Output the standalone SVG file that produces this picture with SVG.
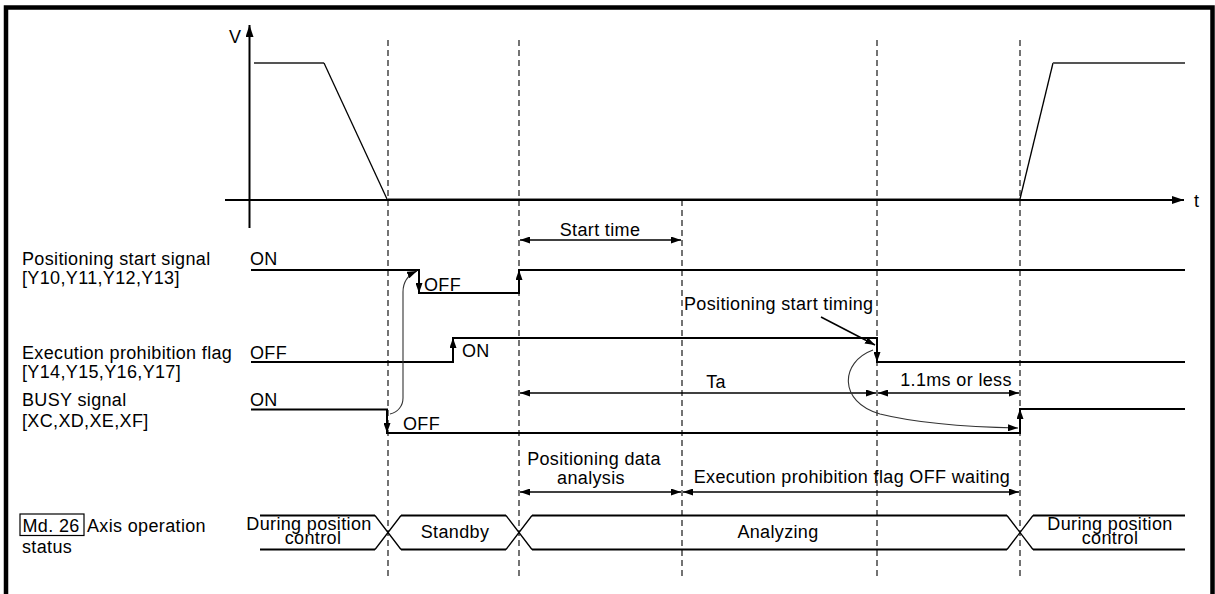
<svg xmlns="http://www.w3.org/2000/svg" width="1215" height="594" viewBox="0 0 1215 594">
<style>
text{font-family:"Liberation Sans",Arial,sans-serif;font-size:18px;letter-spacing:0.35px;fill:#000}
.mid{text-anchor:middle}
.sig{fill:none;stroke:#000;stroke-width:2}
.guide{fill:none;stroke:#000;stroke-width:1.1;stroke-dasharray:6,4}
.dim{fill:none;stroke:#000;stroke-width:1.3;marker-start:url(#ah);marker-end:url(#ah)}
.edge{fill:none;stroke:none;marker-end:url(#ah)}
.thin{fill:none;stroke:#333;stroke-width:1.1;marker-end:url(#ah)}
.bus{fill:none;stroke:#000;stroke-width:2}
.busx{fill:none;stroke:#000;stroke-width:1.3}
</style>
<defs>
<marker id="ah" markerUnits="userSpaceOnUse" markerWidth="10" markerHeight="7" refX="10" refY="3.5" orient="auto-start-reverse"><path d="M0,0 L10,3.5 L0,7 Z" fill="#000"/></marker>
<marker id="axh" markerUnits="userSpaceOnUse" markerWidth="12" markerHeight="8" refX="12" refY="4" orient="auto"><path d="M0,0 L12,4 L0,8 Z" fill="#000"/></marker>
</defs>
<rect width="1215" height="594" fill="#fff"/>
<path id="frame" d="M6,594 V7.5 H1212.5 V594" fill="none" stroke="#000" stroke-width="4.5"/>

<g id="guides">
<line class="guide" x1="388" y1="40" x2="388" y2="577"/>
<line class="guide" x1="519" y1="40" x2="519" y2="577"/>
<line class="guide" x1="682" y1="200" x2="682" y2="577"/>
<line class="guide" x1="877" y1="40" x2="877" y2="577"/>
<line class="guide" x1="1020" y1="40" x2="1020" y2="577"/>
</g>

<g id="velocity-graph">
<line x1="249.5" y1="228" x2="249.5" y2="25" stroke="#000" stroke-width="2" marker-end="url(#axh)"/>
<line x1="225" y1="200" x2="1184" y2="200" stroke="#000" stroke-width="2.2" marker-end="url(#axh)"/>
<text x="229" y="43">V</text>
<text x="1194" y="207">t</text>
<path d="M254,63 H324" fill="none" stroke="#555" stroke-width="2"/>
<path d="M324,63 L387,199" fill="none" stroke="#000" stroke-width="1.3"/>
<path d="M387,198.5 H1020" fill="none" stroke="#888" stroke-width="1"/>
<path d="M1020,199 L1053,63" fill="none" stroke="#000" stroke-width="1.3"/>
<path d="M1053,63 H1185" fill="none" stroke="#555" stroke-width="2"/>
</g>

<g id="positioning-start-signal">
<text x="22" y="265">Positioning start signal</text>
<text x="22" y="284">[Y10,Y11,Y12,Y13]</text>
<text x="250" y="265">ON</text>
<polyline class="sig" points="251,270 419,270 419,293 519,293 519,270 1185,270"/>
<line class="edge" x1="419" y1="275" x2="419" y2="293"/>
<line class="edge" x1="519" y1="288" x2="519" y2="270"/>
<text x="424" y="291">OFF</text>
</g>

<g id="execution-prohibition-flag">
<text x="22" y="359">Execution prohibition flag</text>
<text x="22" y="378">[Y14,Y15,Y16,Y17]</text>
<text x="250" y="359">OFF</text>
<polyline class="sig" points="251,362 453,362 453,338 877,338 877,362 1185,362"/>
<line class="edge" x1="453" y1="357" x2="453" y2="338"/>
<line class="edge" x1="877" y1="343" x2="877" y2="362"/>
<text x="462" y="357">ON</text>
<text x="684" y="310">Positioning start timing</text>
</g>

<g id="busy-signal">
<text x="22" y="406">BUSY signal</text>
<text x="22" y="427">[XC,XD,XE,XF]</text>
<text x="250" y="406">ON</text>
<polyline class="sig" points="251,409.5 387,409.5 387,433 1020,433 1020,409 1185,409"/>
<line class="edge" x1="387" y1="415" x2="387" y2="433"/>
<line class="edge" x1="1020" y1="428" x2="1020" y2="409"/>
<text x="403" y="430">OFF</text>
</g>

<g id="axis-operation-status">
<rect x="20" y="514" width="64" height="21.5" fill="none" stroke="#000" stroke-width="1.2"/>
<text x="22.5" y="531.5">Md. 26</text>
<text x="87" y="531.5">Axis operation</text>
<text x="22" y="553">status</text>
<path class="bus" d="M260,515.5 H375 M260,549.5 H375 M401,515.5 H506 M401,549.5 H506 M532,515.5 H1007 M532,549.5 H1007 M1033,515.5 H1185 M1033,549.5 H1185"/>
<path class="busx" d="M375,515.5 L401,549.5 M375,549.5 L401,515.5 M506,515.5 L532,549.5 M506,549.5 L532,515.5 M1007,515.5 L1033,549.5 M1007,549.5 L1033,515.5"/>
<text class="mid" x="309" y="529.5">During position</text>
<text class="mid" x="313" y="543.5">control</text>
<text class="mid" x="455" y="537.5">Standby</text>
<text class="mid" x="778" y="537.5">Analyzing</text>
<text class="mid" x="1110" y="529.5">During position</text>
<text class="mid" x="1110" y="543.5">control</text>
</g>

<g id="connectors">
<line class="dim" x1="520" y1="240" x2="681" y2="240"/>
<text class="mid" x="600" y="236">Start time</text>
<line class="dim" x1="520" y1="393" x2="876" y2="393"/>
<text class="mid" x="716" y="388">Ta</text>
<line class="dim" x1="878" y1="393" x2="1019" y2="393"/>
<text class="mid" x="956" y="386">1.1ms or less</text>
<line class="dim" x1="520" y1="492" x2="681" y2="492"/>
<text class="mid" x="594" y="465">Positioning data</text>
<text class="mid" x="591" y="484">analysis</text>
<line class="dim" x1="683" y1="492" x2="1019" y2="492"/>
<text class="mid" x="852" y="483">Execution prohibition flag OFF waiting</text>
<line x1="821" y1="317" x2="875" y2="345" stroke="#000" stroke-width="1.5" marker-end="url(#ah)"/>
<path class="thin" d="M390,414 C398,412 403,406 403,398 L403,292 C403,282 408,275 417,271"/>
<path class="thin" d="M873,350 C840,362 838,402 880,414 C920,424 970,427 1018,428"/>
</g>
</svg>
